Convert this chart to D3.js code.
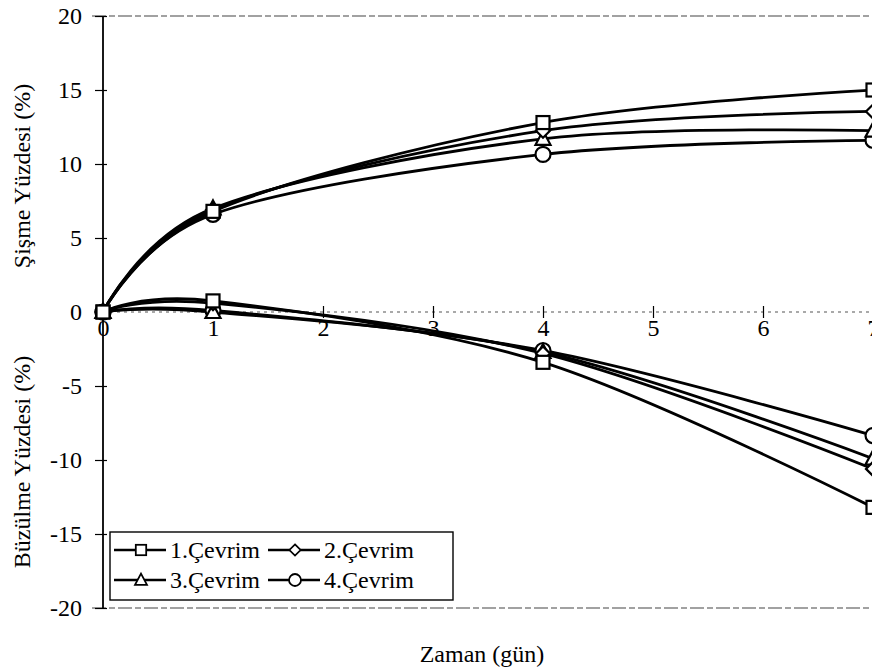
<!DOCTYPE html>
<html><head><meta charset="utf-8">
<script src="https://cdn.jsdelivr.net/npm/d3@7"></script>
<style>body{margin:0;background:#fff}svg{display:block}svg text{font-family:"Liberation Serif","Times New Roman",Times,serif}</style>
</head><body><svg id="c" width="872" height="670"></svg>
<script>
const days = [0, 1, 4, 7];
const seriesNames = ["1.Çevrim", "2.Çevrim", "3.Çevrim", "4.Çevrim"];
const markers = ["square", "diamond", "triangle", "circle"];
const swell1 = [0, 6.8, 12.8, 15.0];
const swell2 = [0, 6.9, 12.25, 13.55];
const swell3 = [0, 7.0, 11.7, 12.25];
const swell4 = [0, 6.6, 10.65, 11.6];
const shrink1 = [0, 0.75, -3.4, -13.2];
const shrink2 = [0, 0.6, -2.8, -10.6];
const shrink3 = [0, 0.0, -2.7, -9.9];
const shrink4 = [0, 0.1, -2.6, -8.35];
const xTicks = [0, 1, 2, 3, 4, 5, 6, 7];
const yTicks = [-20, -15, -10, -5, 0, 5, 10, 15, 20];

const svg = d3.select("#c");
const x = d3.scaleLinear().domain([0, 7]).range([103, 873]);
const y = d3.scaleLinear().domain([-20, 20]).range([608, 16]);

// frame lines (top/bottom dashed)
[20, -20].forEach(v => {
  svg.append("line").attr("x1", 92).attr("x2", 872).attr("y1", y(v)).attr("y2", y(v))
    .attr("stroke", "#444").attr("stroke-width", 1.2).attr("stroke-dasharray", "14,3,6,3");
});
// zero line dotted
svg.append("line").attr("x1", x(0)).attr("x2", 872).attr("y1", y(0)).attr("y2", y(0))
  .attr("stroke", "#555").attr("stroke-width", 1.2).attr("stroke-dasharray", "3,4");
// y axis
svg.append("line").attr("x1", x(0)).attr("x2", x(0)).attr("y1", y(20)).attr("y2", y(-20))
  .attr("stroke", "#000").attr("stroke-width", 1.8);

const yAxis = d3.axisLeft(y).tickValues(yTicks).tickSize(7).tickPadding(14).tickFormat(d3.format("d"));
const gy = svg.append("g").attr("transform", `translate(${x(0)},0)`).call(yAxis);
gy.select(".domain").remove();
gy.selectAll(".tick line").attr("stroke", "#000").attr("stroke-width", 1.2).attr("x2", -8).attr("x1", 4);
gy.selectAll(".tick text").attr("font-family", null).attr("font-size", 24).attr("fill", "#000")
  .text(d => d < 0 ? "-" + Math.abs(d) : d);

const xAxis = d3.axisBottom(x).tickValues(xTicks).tickSize(0).tickPadding(7).tickFormat(d3.format("d"));
const gx = svg.append("g").attr("transform", `translate(0,${y(0)})`).call(xAxis);
gx.select(".domain").remove();
gx.selectAll(".tick text").attr("font-size", 24).attr("fill", "#000");
gx.selectAll(".tick").append("line").attr("y1", -6).attr("y2", 6).attr("stroke", "#000").attr("stroke-width", 1.2);
gx.attr("font-family", null); gy.attr("font-family", null);

// titles
svg.append("text").attr("transform", `translate(30,176) rotate(-90)`).attr("text-anchor", "middle")
  .attr("font-size", 24).text("Şişme Yüzdesi (%)");
svg.append("text").attr("transform", `translate(30,462) rotate(-90)`).attr("text-anchor", "middle")
  .attr("font-size", 24).text("Büzülme Yüzdesi (%)");
svg.append("text").attr("x", 482).attr("y", 662).attr("text-anchor", "middle")
  .attr("font-size", 24).text("Zaman (gün)");

const line = d3.line().x(d => x(d[0])).y(d => y(d[1])).curve(d3.curveCardinal.tension(0));
const swellSets = [swell1, swell2, swell3, swell4];
const shrinkSets = [shrink1, shrink2, shrink3, shrink4];

function drawMarker(g, type, cx, cy) {
  const s = g.append("g").attr("transform", `translate(${cx},${cy})`);
  const st = {fill: "#fff", stroke: "#000", "stroke-width": 2.2};
  let el;
  if (type === "square") el = s.append("rect").attr("x", -6.5).attr("y", -6.5).attr("width", 13).attr("height", 13);
  else if (type === "circle") el = s.append("circle").attr("r", 7.5);
  else if (type === "diamond") el = s.append("path").attr("d", "M0,-7L7,0L0,7L-7,0Z");
  else el = s.append("path").attr("d", "M0,-8L7.5,6L-7.5,6Z");
  Object.entries(st).forEach(([k, v]) => el.attr(k, v));
}

const plot = svg.append("g");
[swellSets, shrinkSets].forEach(sets => {
  sets.forEach((vals, i) => {
    const pts = days.map((d, j) => [d, vals[j]]);
    plot.append("path").attr("d", line(pts)).attr("fill", "none").attr("stroke", "#000").attr("stroke-width", 2.8);
  });
});
[swellSets, shrinkSets].forEach(sets => {
  for (let i = sets.length - 1; i >= 0; i--) {
    days.forEach((d, j) => drawMarker(plot, markers[i], x(d), y(sets[i][j])));
  }
});

// legend
const lg = svg.append("g");
lg.append("rect").attr("x", 110).attr("y", 532).attr("width", 343).attr("height", 68)
  .attr("fill", "#fff").attr("stroke", "#000").attr("stroke-width", 1.4);
const legendPos = [[114, 550], [268, 550], [114, 580], [268, 580]];
seriesNames.forEach((name, i) => {
  const [lx, ly] = legendPos[i];
  lg.append("line").attr("x1", lx).attr("x2", lx + 52).attr("y1", ly).attr("y2", ly).attr("stroke", "#000").attr("stroke-width", 2.4);
  const s = lg.append("g").attr("transform", `translate(${lx + 27},${ly}) scale(0.8)`);
  drawMarker(s, markers[i], 0, 0);
  lg.append("text").attr("x", lx + 56).attr("y", ly + 8).attr("font-size", 24).text(name);
});
</script></body></html>
